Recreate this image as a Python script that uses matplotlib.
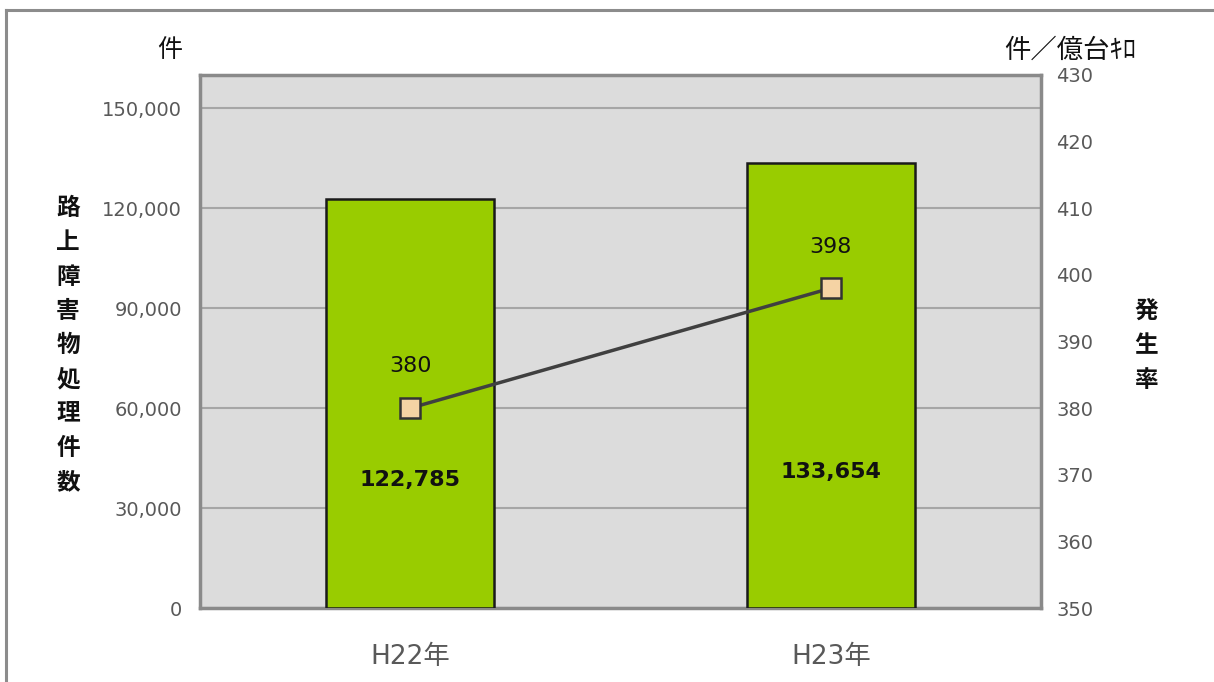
import matplotlib
matplotlib.use("Agg")
import matplotlib.pyplot as plt
from matplotlib.lines import Line2D

categories = ["H22年", "H23年"]
counts = [122785, 133654]
rates = [380, 398]
count_labels = ["122,785", "133,654"]
rate_labels = ["380", "398"]
left_ticks = [0, 30000, 60000, 90000, 120000, 150000]
left_ticklabels = ["0", "30,000", "60,000", "90,000", "120,000", "150,000"]
right_ticks = [350, 360, 370, 380, 390, 400, 410, 420, 430]

JP = ["Noto Sans CJK JP", "DejaVu Sans"]
MIX = ["DejaVu Sans", "Noto Sans CJK JP"]
NUM = ["DejaVu Sans"]

W, H = 1214, 682
fig = plt.figure(figsize=(W / 100, H / 100), dpi=100)
fig.patch.set_facecolor("white")

# outer border (top and left)
fig.add_artist(Line2D([6 / W, 6 / W], [0, 1 - 10 / H], color="#8c8c8c", lw=2.2, transform=fig.transFigure))
fig.add_artist(Line2D([6 / W, 1], [1 - 10 / H, 1 - 10 / H], color="#8c8c8c", lw=2.2, transform=fig.transFigure))

ax = fig.add_axes([200 / W, 1 - 608 / H, 841 / W, (608 - 75) / H])
ax.set_facecolor("#dcdcdc")
x = list(range(len(categories)))
ax.bar(x, counts, width=0.4, color="#99cc00", edgecolor="#1a1a1a", linewidth=1.8, zorder=3)
ax.set_xlim(-0.5, 1.5)
ax.set_ylim(0, 160000)
ax.set_yticks(left_ticks)
ax.set_yticklabels(left_ticklabels, fontfamily=NUM, fontsize=14, color="#595959")
ax.set_xticks(x)
ax.set_xticklabels(categories, fontfamily=MIX, fontsize=19, color="#595959")
ax.tick_params(axis="y", length=0, pad=13)
ax.tick_params(axis="x", length=0, pad=26)
ax.yaxis.grid(True, color="#a6a6a6", lw=1.5, zorder=1)
ax.set_axisbelow(True)
for s in ax.spines.values():
    s.set_color("#8a8a8a")
    s.set_linewidth(2.5)

label_y = [38400, 40800]
for xi, lab, yy in zip(x, count_labels, label_y):
    ax.text(xi, yy, lab, ha="center", va="center", fontfamily=NUM, fontsize=16,
            fontweight="bold", color="#111111", zorder=6)

ax2 = ax.twinx()
ax2.plot(x, rates, color="#404040", lw=2.5, marker="s", markersize=15,
         markerfacecolor="#f5d3a4", markeredgecolor="#333333", markeredgewidth=1.8, zorder=5)
ax2.set_ylim(350, 430)
ax2.set_yticks(right_ticks)
ax2.set_yticklabels([str(t) for t in right_ticks], fontfamily=NUM, fontsize=14, color="#595959")
ax2.tick_params(length=0, pad=11)
for s in ax2.spines.values():
    s.set_visible(False)
for xi, r, lab in zip(x, rates, rate_labels):
    ax2.annotate(lab, (xi, r), xytext=(0, 30), textcoords="offset points", ha="center",
                 va="center", fontfamily=NUM, fontsize=16, color="#111111")

# unit labels
fig.text(170 / W, 1 - 50 / H, "件", ha="center", va="center", fontfamily=JP, fontsize=18, color="#111111")
fig.text(1070 / W, 1 - 50 / H, "件／億台ｷﾛ", ha="center", va="center", fontfamily=JP, fontsize=19, color="#111111")

# vertical axis titles
left_title = "路上障害物処理件数"
for i, ch in enumerate(left_title):
    fig.text(68 / W, 1 - (208 + i * 34.3) / H, ch, ha="center", va="center", fontfamily=JP,
             fontsize=17, fontweight="bold", color="#111111")
right_title = "発生率"
for i, ch in enumerate(right_title):
    fig.text(1146 / W, 1 - (311 + i * 34.3) / H, ch, ha="center", va="center", fontfamily=JP,
             fontsize=17, fontweight="bold", color="#111111")

fig.savefig("out.png", dpi=100, facecolor="white")
